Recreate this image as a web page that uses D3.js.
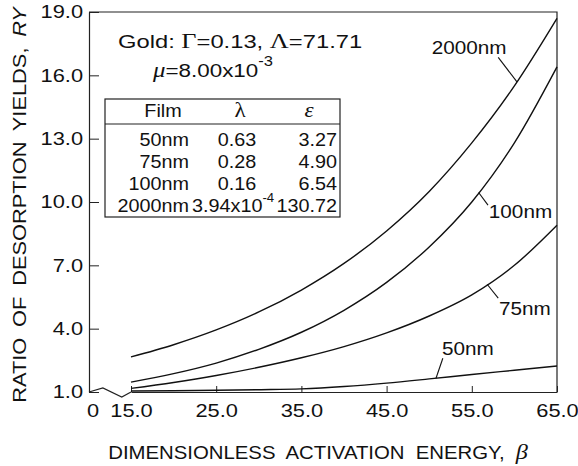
<!DOCTYPE html>
<html>
<head>
<meta charset="utf-8">
<script src="https://cdn.jsdelivr.net/npm/d3@7"></script>
<style>
  body { margin: 0; background: #fff; }
  text { font-family: "Liberation Sans", Arial, sans-serif; fill: #111; }
  .serif { font-family: "Liberation Serif", "Times New Roman", serif; }
</style>
</head>
<body>
<div id="chartContainer"></div>
<script>
// Data
const beta = [15, 20, 25, 30, 35, 40, 45, 50, 55, 60, 65];
const ry2000 = [2.66, 3.24, 3.94, 4.79, 5.83, 7.09, 8.63, 10.5, 12.8, 15.5, 18.7];
const ry100 = [1.47, 1.87, 2.37, 3.02, 3.83, 4.87, 6.19, 7.87, 10.0, 12.8, 16.4];
const ry75 = [1.17, 1.45, 1.78, 2.17, 2.62, 3.15, 3.8, 4.6, 5.6, 7.0, 8.9];
const ry50 = [1.05, 1.06, 1.08, 1.11, 1.15, 1.26, 1.42, 1.62, 1.83, 2.03, 2.23];
const seriesNames = ["2000nm", "100nm", "75nm", "50nm"];
const xTicks = [15, 25, 35, 45, 55, 65];
const yTicks = [1, 4, 7, 10, 13, 16, 19];

// Table in the inset
const films = ["50nm", "75nm", "100nm", "2000nm"];
const lambdas = ["0.63", "0.28", "0.16", "3.94x10"];
const lambdaExp = ["", "", "", "-4"];
const epsilons = ["3.27", "4.90", "6.54", "130.72"];

// Declare the chart dimensions and margins.
const width = 578;
const height = 466;
const marginTop = 12;
const marginRight = 21;
const marginBottom = 74;
const marginLeft = 89;
const breakGap = 42; // room for the 0..15 axis break
const sx = 1.18;     // the scanned lettering is wide

const x = d3.scaleLinear().domain([15, 65]).range([marginLeft + breakGap, width - marginRight]);
const y = d3.scaleLinear().domain([1, 19]).range([height - marginBottom, marginTop]);

const svg = d3.create("svg")
    .attr("width", width)
    .attr("height", height)
    .attr("viewBox", [0, 0, width, height]);

// helper for stretched text
function label(g, px, py, str, size, anchor, scale) {
    return g.append("text")
        .attr("transform", `translate(${px},${py}) scale(${scale || sx},1)`)
        .attr("text-anchor", anchor || "start")
        .attr("font-size", size)
        .text(str);
}

// frame: top and right
svg.append("path")
    .attr("fill", "none")
    .attr("stroke", "#222")
    .attr("stroke-width", 1.2)
    .attr("d", `M${marginLeft},${y(19)}H${x(65)}V${y(1)}`);

// left axis
const gy = svg.append("g")
    .attr("transform", `translate(${marginLeft},0)`)
    .call(d3.axisLeft(y).tickValues(yTicks).tickFormat(d3.format(".1f")).tickSize(-10).tickSizeOuter(0).tickPadding(6));
gy.select(".domain").attr("stroke", "#222").attr("stroke-width", 1.2);
gy.selectAll(".tick line").attr("stroke", "#222");
gy.selectAll("text")
    .attr("font-size", 18.5)
    .attr("font-family", "Liberation Sans, Arial, sans-serif")
    .attr("fill", "#111")
    .attr("transform", `scale(${sx},1)`)
    .attr("x", -6 / sx);

// bottom axis
const gx = svg.append("g")
    .attr("transform", `translate(0,${y(1)})`)
    .call(d3.axisBottom(x).tickValues(xTicks).tickFormat(d3.format(".1f")).tickSize(-6).tickSizeOuter(0).tickPadding(12));
gx.select(".domain").attr("stroke", "#222").attr("stroke-width", 1.2);
gx.selectAll(".tick line").attr("stroke", "#222");
gx.selectAll("text")
    .attr("font-size", 18.5)
    .attr("font-family", "Liberation Sans, Arial, sans-serif")
    .attr("fill", "#111")
    .attr("transform", `scale(${sx},1)`);

// axis break zigzag between 0 and 15
const y0 = y(1);
const bx0 = marginLeft, bx1 = x(15);
svg.append("path")
    .attr("fill", "none")
    .attr("stroke", "#222")
    .attr("stroke-width", 1.2)
    .attr("d", d3.line()([
        [bx0, y0],
        [bx0 + 0.33 * (bx1 - bx0), y0 - 4],
        [bx0 + 0.78 * (bx1 - bx0), y0 + 5],
        [bx1, y0]
    ]));
label(svg, bx0 + 4, y0 + 12 + 13, "0", 18.5, "middle");

// curves
const series = [ry2000, ry100, ry75, ry50];
const line = d3.line()
    .x((d, i) => x(beta[i]))
    .y(d => y(d))
    .curve(d3.curveMonotoneX);
svg.selectAll(".curve")
    .data(series)
    .join("path")
    .attr("class", "curve")
    .attr("fill", "none")
    .attr("stroke", "#111")
    .attr("stroke-width", 1.4)
    .attr("d", line);

// value on a curve for the leader lines
function at(vals, b) {
    return d3.scaleLinear().domain(beta).range(vals)(b);
}

// curve labels: text anchor (beta, RY), leader start (beta, RY), leader end beta on curve
const curveLabels = [
    { name: "2000nm", vals: ry2000, tb: 50.3, tr: 17.0, lb: 58.1, lr: 16.85, cb: 60.3 },
    { name: "100nm", vals: ry100, tb: 57.0, tr: 9.25, lb: 56.9, lr: 9.85, cb: 55.8 },
    { name: "75nm", vals: ry75, tb: 58.2, tr: 4.65, lb: 58.1, lr: 5.45, cb: 56.8 },
    { name: "50nm", vals: ry50, tb: 51.5, tr: 2.75, lb: 51.6, lr: 2.6, cb: 50.8 }
];
curveLabels.forEach(c => {
    label(svg, x(c.tb), y(c.tr), c.name, 18.5, "start", 1.12);
    svg.append("line")
        .attr("x1", x(c.lb)).attr("y1", y(c.lr))
        .attr("x2", x(c.cb)).attr("y2", y(at(c.vals, c.cb)))
        .attr("stroke", "#111").attr("stroke-width", 1.1);
});

// annotation: material constants
const ann = svg.append("text")
    .attr("transform", `translate(118,48) scale(1.25,1)`)
    .attr("font-size", 19);
ann.append("tspan").text("Gold: ");
ann.append("tspan").attr("class", "serif").attr("font-size", 21).text("Γ");
ann.append("tspan").text("=0.13, ");
ann.append("tspan").attr("class", "serif").attr("font-size", 21).text("Λ");
ann.append("tspan").text("=71.71");

const mu = svg.append("text")
    .attr("transform", `translate(153,77) scale(${sx},1)`)
    .attr("font-size", 19);
mu.append("tspan").attr("class", "serif").attr("font-style", "italic").attr("font-size", 21).text("μ");
mu.append("tspan").text("=8.00x10");
mu.append("tspan").attr("font-size", 14).attr("dy", -11).text("-3");

// inset table
const tbl = { x0: 105, x1: 340, y0: 99, y1: 217, yHead: 124 };
const ts = 1.1; // table text stretch
svg.append("rect")
    .attr("x", tbl.x0).attr("y", tbl.y0)
    .attr("width", tbl.x1 - tbl.x0).attr("height", tbl.y1 - tbl.y0)
    .attr("fill", "#fff").attr("stroke", "#222").attr("stroke-width", 1.2);
svg.append("line")
    .attr("x1", tbl.x0).attr("x2", tbl.x1)
    .attr("y1", tbl.yHead).attr("y2", tbl.yHead)
    .attr("stroke", "#222").attr("stroke-width", 1.2);

label(svg, 163, 117, "Film", 18, "middle", ts);
label(svg, 240, 117, "λ", 21, "middle", ts).attr("class", "serif");
label(svg, 309, 117, "ε", 21, "middle", ts).attr("class", "serif").attr("font-style", "italic");

const rowY = d3.scalePoint().domain(films).range([146, 212]);
films.forEach((f, i) => {
    const ry = rowY(f);
    label(svg, 189, ry, f, 18, "end", ts);
    let t;
    if (lambdaExp[i]) {
        t = label(svg, 192, ry, "", 18, "start", ts);
        t.append("tspan").text(lambdas[i]);
        t.append("tspan").attr("font-size", 12).attr("dy", -10).text(lambdaExp[i]);
    } else {
        label(svg, 237, ry, lambdas[i], 18, "middle", ts);
    }
    label(svg, 337, ry, epsilons[i], 18, "end", ts);
});

// axis titles
const xt = svg.append("text")
    .attr("transform", `translate(318,459) scale(1.1,1)`)
    .attr("text-anchor", "middle")
    .attr("word-spacing", 5)
    .attr("font-size", 18.5);
xt.append("tspan").text("DIMENSIONLESS ACTIVATION ENERGY, ");
xt.append("tspan").attr("class", "serif").attr("font-style", "italic").attr("font-size", 22).text("β");

const yt = svg.append("text")
    .attr("transform", `translate(26,205) rotate(-90) scale(${sx},1)`)
    .attr("text-anchor", "middle")
    .attr("word-spacing", 4)
    .attr("font-size", 18.5);
yt.append("tspan").text("RATIO OF DESORPTION YIELDS, ");
yt.append("tspan").attr("font-style", "italic").text("RY");

document.getElementById("chartContainer").appendChild(svg.node());
</script>
</body>
</html>
